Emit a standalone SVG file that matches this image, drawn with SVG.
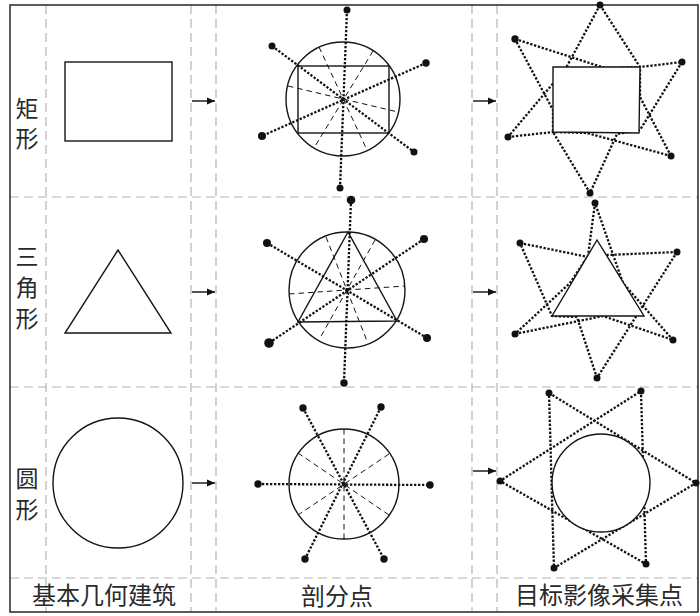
<svg xmlns="http://www.w3.org/2000/svg" width="700" height="616" viewBox="0 0 700 616">
<style>
.grid{stroke:#b4b4b4;stroke-width:1.2;stroke-dasharray:9 5;fill:none}
.shape{stroke:#151515;stroke-width:1.4;fill:none}
.fillw{stroke:#151515;stroke-width:1.4;fill:#fff}
.dot{stroke:#111;stroke-width:2.3;stroke-dasharray:2.3 1.7;fill:none}
.dash{stroke:#151515;stroke-width:1;stroke-dasharray:5.5 4;fill:none}
.pt{fill:#111}
.lab{font-family:"Noto Sans CJK SC","Noto Sans CJK JP",sans-serif;font-size:24px;fill:#2a2a2a;text-anchor:middle}
.vlab{font-family:"Noto Sans CJK SC","Noto Sans CJK JP",sans-serif;font-size:23px;fill:#2a2a2a;writing-mode:vertical-rl;text-anchor:start}
.arrow{stroke:#111;stroke-width:1.4;fill:none}
</style>
<defs>
<marker id="ah" markerUnits="userSpaceOnUse" markerWidth="9" markerHeight="8" refX="8" refY="4" orient="auto">
<path d="M0,0.5 L8,4 L0,7.5 z" fill="#111"/>
</marker>
</defs>
<rect width="700" height="616" fill="#fff"/>
<g id="grid">
<line class="grid" x1="46" y1="5" x2="46" y2="612"/>
<line class="grid" x1="191" y1="5" x2="191" y2="612"/>
<line class="grid" x1="216" y1="5" x2="216" y2="612"/>
<line class="grid" x1="472" y1="5" x2="472" y2="612"/>
<line class="grid" x1="497" y1="5" x2="497" y2="612"/>
<line class="grid" x1="10" y1="197" x2="698" y2="197"/>
<line class="grid" x1="10" y1="387" x2="698" y2="387"/>
<line class="grid" x1="10" y1="578" x2="698" y2="578"/>
<rect x="10" y="5" width="688" height="607" fill="none" stroke="#333" stroke-width="1.6"/>
</g>
<g id="row-labels">
<text class="vlab" x="27" y="96.5" letter-spacing="7">矩形</text>
<text class="vlab" x="27" y="244.5" letter-spacing="8">三角形</text>
<text class="vlab" x="27" y="466.5" letter-spacing="8">圆形</text>
</g>
<g id="col-labels">
<text class="lab" x="104" y="604">基本几何建筑</text>
<text class="lab" x="337" y="605">剖分点</text>
<text class="lab" x="599" y="604">目标影像采集点</text>
</g>
<g id="rect-shape">
<rect class="shape" x="65" y="62" width="107" height="79"/>
</g>
<g id="triangle-shape">
<polygon class="shape" points="118,250 65,333 171,333"/>
</g>
<g id="circle-shape">
<circle class="shape" cx="118" cy="483" r="65"/>
</g>
<g id="rect-split">
<circle class="shape" cx="343" cy="99" r="57"/>
<rect class="shape" x="298" y="66" width="91" height="67"/>
<line class="dash" x1="319" y1="47" x2="367" y2="150"/>
<line class="dash" x1="373" y1="51" x2="314" y2="148"/>
<line class="dash" x1="288" y1="86" x2="398" y2="112"/>
<line class="dot" x1="347" y1="10" x2="340" y2="188"/>
<line class="dot" x1="272" y1="46" x2="414" y2="152"/>
<line class="dot" x1="426" y1="63" x2="262" y2="136"/>
<circle class="pt" cx="347" cy="10" r="3.5"/>
<circle class="pt" cx="340" cy="188" r="3.5"/>
<circle class="pt" cx="272" cy="46" r="3.5"/>
<circle class="pt" cx="414" cy="152" r="3.5"/>
<circle class="pt" cx="426" cy="63" r="3.7"/>
<circle class="pt" cx="262" cy="136" r="4"/>
<circle class="pt" cx="343" cy="99" r="2"/>
</g>
<g id="triangle-split">
<circle class="shape" cx="347" cy="290" r="58"/>
<polygon class="shape" points="348,232 298,322 397,321"/>
<line class="dash" x1="326" y1="237" x2="367" y2="341"/>
<line class="dash" x1="375" y1="240" x2="320" y2="338"/>
<line class="dash" x1="289" y1="294" x2="405" y2="286"/>
<line class="dot" x1="351" y1="200" x2="344" y2="383"/>
<line class="dot" x1="267" y1="243" x2="427" y2="338"/>
<line class="dot" x1="424" y1="239" x2="269" y2="343"/>
<circle class="pt" cx="351" cy="200" r="4.3"/>
<circle class="pt" cx="344" cy="383" r="3.7"/>
<circle class="pt" cx="267" cy="243" r="4"/>
<circle class="pt" cx="427" cy="338" r="4"/>
<circle class="pt" cx="424" cy="239" r="4"/>
<circle class="pt" cx="269" cy="343" r="4.8"/>
<circle class="pt" cx="347" cy="290" r="2"/>
</g>
<g id="circle-split">
<circle class="shape" cx="344" cy="484" r="55"/>
<line class="dash" x1="344" y1="429" x2="344" y2="539"/>
<line class="dash" x1="298" y1="453" x2="389" y2="515"/>
<line class="dash" x1="389" y1="454" x2="298" y2="515"/>
<line class="dot" x1="258" y1="484" x2="430" y2="485"/>
<line class="dot" x1="303" y1="408" x2="384" y2="559"/>
<line class="dot" x1="381" y1="407" x2="305" y2="559"/>
<circle class="pt" cx="258" cy="484" r="3.7"/>
<circle class="pt" cx="430" cy="485" r="3.7"/>
<circle class="pt" cx="303" cy="408" r="3.7"/>
<circle class="pt" cx="381" cy="407" r="3.7"/>
<circle class="pt" cx="305" cy="559" r="3.7"/>
<circle class="pt" cx="384" cy="559" r="3.7"/>
<circle class="pt" cx="344" cy="484" r="2"/>
</g>
<g id="rect-target">
<polyline class="dot" points="600,5 566,68 508,137"/>
<polyline class="dot" points="508,137 553,132 587,133 671,156"/>
<polyline class="dot" points="671,156 640,97 640,67 600,5"/>
<polyline class="dot" points="515,39 605,68 640,67 682,62"/>
<polyline class="dot" points="682,62 640,130 617,134 590,193"/>
<polyline class="dot" points="590,193 553,132 553,110 515,39"/>
<polygon class="fillw" points="553,67 640,67 639,133 553,132"/>
<circle class="pt" cx="600" cy="5" r="3.5"/>
<circle class="pt" cx="515" cy="39" r="3.7"/>
<circle class="pt" cx="682" cy="62" r="3.5"/>
<circle class="pt" cx="508" cy="137" r="3.5"/>
<circle class="pt" cx="671" cy="156" r="3.5"/>
<circle class="pt" cx="590" cy="193" r="3.5"/>
</g>
<g id="triangle-target">
<polyline class="dot" points="595,203 588,256 570,283 515,334"/>
<polyline class="dot" points="515,334 603,316 673,340"/>
<polyline class="dot" points="673,340 623,283 595,203"/>
<polyline class="dot" points="520,243 588,257 607,255 677,252"/>
<polyline class="dot" points="677,252 597,378"/>
<polyline class="dot" points="597,378 577,317 552,316 520,243"/>
<polygon class="fillw" points="597,240 552,316 644,316"/>
<circle class="pt" cx="595" cy="203" r="3.5"/>
<circle class="pt" cx="520" cy="243" r="3.5"/>
<circle class="pt" cx="677" cy="252" r="3.5"/>
<circle class="pt" cx="515" cy="334" r="3.5"/>
<circle class="pt" cx="673" cy="340" r="3.5"/>
<circle class="pt" cx="597" cy="378" r="3.5"/>
</g>
<g id="circle-target">
<polygon class="dot" points="549,393 696,483 554,568"/>
<polygon class="dot" points="641,391 646,564 500,481"/>
<circle class="fillw" cx="601" cy="483" r="49"/>
<circle class="pt" cx="549" cy="393" r="3.5"/>
<circle class="pt" cx="641" cy="391" r="3.5"/>
<circle class="pt" cx="500" cy="481" r="3.5"/>
<circle class="pt" cx="696" cy="483" r="3.5"/>
<circle class="pt" cx="554" cy="568" r="3.5"/>
<circle class="pt" cx="646" cy="564" r="3.5"/>
</g>
<g id="connectors">
<line class="arrow" x1="192" y1="101" x2="215" y2="101" marker-end="url(#ah)"/>
<line class="arrow" x1="192" y1="292" x2="215" y2="292" marker-end="url(#ah)"/>
<line class="arrow" x1="192" y1="483" x2="215" y2="483" marker-end="url(#ah)"/>
<line class="arrow" x1="473" y1="101" x2="496" y2="101" marker-end="url(#ah)"/>
<line class="arrow" x1="473" y1="292" x2="496" y2="292" marker-end="url(#ah)"/>
<line class="arrow" x1="473" y1="471" x2="496" y2="471" marker-end="url(#ah)"/>
</g>
</svg>
